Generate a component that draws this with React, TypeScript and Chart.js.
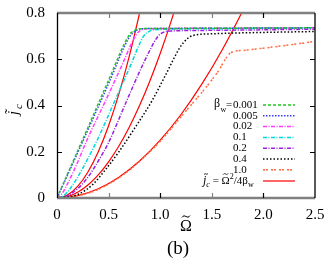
import React, { useEffect, useRef } from "react";
import { Chart, registerables } from "chart.js";

Chart.register(...registerables);

// ---- data ----
const betaLabels = ["0.001", "0.005", "0.02", "0.1", "0.2", "0.4", "1.0"];

const b0001X = [0, 0.1, 0.3, 0.5, 0.7, 0.75, 0.8, 1.0, 1.5, 2.0, 2.5];
const b0001Y = [0, 0.102, 0.305, 0.51, 0.705, 0.724, 0.732, 0.733, 0.734, 0.735, 0.736];

const b0005X = [0, 0.1, 0.3, 0.5, 0.7, 0.76, 0.82, 1.0, 1.5, 2.0, 2.5];
const b0005Y = [0, 0.097, 0.295, 0.495, 0.695, 0.722, 0.732, 0.733, 0.734, 0.735, 0.736];

const b002X = [0, 0.05, 0.1, 0.2, 0.29, 0.47, 0.62, 0.76, 0.82, 0.9, 1.5, 2.5];
const b002Y = [0, 0.02, 0.06, 0.155, 0.25, 0.42, 0.565, 0.7, 0.728, 0.732, 0.734, 0.736];

const b01X = [0, 0.05, 0.1, 0.2, 0.29, 0.4, 0.56, 0.7, 0.84, 0.9, 0.95, 1.5, 2.5];
const b01Y = [0, 0.006, 0.025, 0.09, 0.163, 0.26, 0.42, 0.56, 0.7, 0.722, 0.728, 0.732, 0.736];

const b02X = [0, 0.1, 0.2, 0.3, 0.4, 0.5, 0.675, 0.83, 0.98, 1.04, 1.1, 1.5, 2.5];
const b02Y = [0, 0.01, 0.04, 0.09, 0.16, 0.24, 0.42, 0.575, 0.7, 0.718, 0.722, 0.725, 0.73];

const b04X = [0, 0.2, 0.35, 0.465, 0.6, 0.75, 0.92, 1.05, 1.19, 1.26, 1.32, 1.5, 2.0, 2.5];
const b04Y = [0, 0.015, 0.06, 0.12, 0.2, 0.3, 0.42, 0.53, 0.65, 0.688, 0.703, 0.71, 0.716, 0.72];

const b10X = [0, 0.3, 0.5, 0.7, 0.9, 1.0, 1.2, 1.353, 1.386, 1.55, 1.69, 1.8, 2.0, 2.25, 2.5];
const b10Y = [0, 0.02, 0.06, 0.12, 0.2, 0.245, 0.35, 0.43, 0.447, 0.54, 0.63, 0.638, 0.648, 0.662, 0.677];

// red reference curves j = Omega^2 / 4 beta for beta = 0.2, 0.4, 1.0
const red02X = [0, 0.1, 0.2, 0.3, 0.4, 0.5, 0.6, 0.7, 0.8, 0.85];
const red02Y = [0, 0.0125, 0.05, 0.1125, 0.2, 0.3125, 0.45, 0.6125, 0.8, 0.903];
const red04X = [0, 0.1, 0.2, 0.3, 0.4, 0.5, 0.6, 0.7, 0.8, 0.9, 1.0, 1.1, 1.2];
const red04Y = [0, 0.00625, 0.025, 0.05625, 0.1, 0.15625, 0.225, 0.30625, 0.4, 0.50625, 0.625, 0.75625, 0.9];
const red10X = [0, 0.2, 0.4, 0.6, 0.8, 1.0, 1.2, 1.4, 1.6, 1.8, 1.9];
const red10Y = [0, 0.01, 0.04, 0.09, 0.16, 0.25, 0.36, 0.49, 0.64, 0.81, 0.9025];

const xTicks = [0, 0.5, 1, 1.5, 2, 2.5];
const yTicks = [0, 0.2, 0.4, 0.6, 0.8];

// ---- styles ----
const seriesStyle = [
  { color: "#1ec81e", dash: [3, 2] },
  { color: "#3c3cff", dash: [1.5, 1.5] },
  { color: "#ff3cff", dash: [4, 1.5, 1, 1.5] },
  { color: "#00d8d8", dash: [4, 1.5, 1, 1.5] },
  { color: "#9a20e0", dash: [4, 1.5, 1, 1.5] },
  { color: "#000000", dash: [1.5, 2] },
  { color: "#ff6a40", dash: [2, 1, 2, 3] },
];
const RED = "#ff0000";

const pts = (xs: number[], ys: number[]) => xs.map((v, i) => ({ x: v, y: ys[i] }));

const SERIF = "'Liberation Serif', 'DejaVu Serif', serif";

function tilde(ctx: any, cx: number, y: number, w: number, lw: number) {
  const x0 = cx - w / 2;
  ctx.save();
  ctx.strokeStyle = "#000";
  ctx.lineWidth = lw;
  ctx.setLineDash([]);
  ctx.beginPath();
  ctx.moveTo(x0, y + w * 0.12);
  ctx.bezierCurveTo(x0 + w * 0.35, y - w * 0.45, x0 + w * 0.65, y + w * 0.45, x0 + w, y - w * 0.12);
  ctx.stroke();
  ctx.restore();
}

const framePlugin = {
  id: "frameLegend",
  afterDraw(chart: any) {
    const { ctx, chartArea } = chart;
    const { left, right, top, bottom } = chartArea;
    const xs = chart.scales.x;
    const ys = chart.scales.y;
    ctx.save();
    ctx.lineCap = "butt";
    ctx.strokeStyle = "#808080";
    ctx.lineWidth = 2.5;
    ctx.beginPath();
    ctx.moveTo(left, top);
    ctx.lineTo(right, top);
    ctx.moveTo(left, bottom);
    ctx.lineTo(right, bottom);
    ctx.stroke();
    ctx.lineWidth = 1.2;
    xTicks.forEach((t, i) => {
      if (i === 0 || i === xTicks.length - 1) return;
      const px = Math.round(xs.getPixelForValue(t)) + 0.5;
      ctx.strokeStyle = i % 2 === 0 ? "#000" : "#808080";
      ctx.beginPath();
      ctx.moveTo(px, top);
      ctx.lineTo(px, top + 5);
      ctx.moveTo(px, bottom);
      ctx.lineTo(px, bottom - 5);
      ctx.stroke();
    });
    ctx.strokeStyle = "#000";
    ctx.lineWidth = 1.3;
    ctx.beginPath();
    ctx.moveTo(left + 0.5, top);
    ctx.lineTo(left + 0.5, bottom);
    ctx.moveTo(right, top);
    ctx.lineTo(right, bottom);
    ctx.stroke();
    ctx.lineWidth = 1.2;
    yTicks.forEach((t, i) => {
      if (i === 0 || i === yTicks.length - 1) return;
      const py = Math.round(ys.getPixelForValue(t)) + 0.5;
      ctx.beginPath();
      ctx.moveTo(left, py);
      ctx.lineTo(left + 5, py);
      ctx.moveTo(right, py);
      ctx.lineTo(right - 5, py);
      ctx.stroke();
    });

    // legend
    const rowY = [105, 115.8, 126.6, 137.4, 148.2, 159, 169.8, 181];
    const ds = chart.data.datasets;
    ctx.fillStyle = "#000";
    ctx.textBaseline = "middle";
    for (let i = 0; i < 8; i++) {
      const d = ds[i];
      ctx.save();
      ctx.strokeStyle = d.borderColor;
      ctx.lineWidth = d.borderWidth;
      ctx.setLineDash(d.borderDash || []);
      ctx.beginPath();
      ctx.moveTo(263, rowY[i]);
      ctx.lineTo(295, rowY[i]);
      ctx.stroke();
      ctx.restore();
      if (i < 7) {
        ctx.font = `11px ${SERIF}`;
        ctx.textAlign = "left";
        ctx.fillText(betaLabels[i], 233, rowY[i]);
      }
    }
    ctx.textAlign = "left";
    ctx.font = `12px ${SERIF}`;
    ctx.fillText("β", 214, rowY[0] - 1);
    ctx.font = `8px ${SERIF}`;
    ctx.fillText("w", 220.5, rowY[0] + 5);
    ctx.font = `11px ${SERIF}`;
    ctx.fillText("=", 226, rowY[0]);
    // "j̃c = Ω̃²/4βw"
    let cx = 203;
    const ly = rowY[7];
    const piece = (txt: string, font: string, dy: number) => {
      ctx.font = font;
      ctx.fillText(txt, cx, ly + dy);
      const w = ctx.measureText(txt).width;
      cx += w;
      return w;
    };
    const jx = cx;
    piece("j", `italic 12px ${SERIF}`, 0);
    tilde(ctx, jx + 3, ly - 7, 4, 0.8);
    piece("c", `italic 8px ${SERIF}`, 4);
    piece(" = ", `11px ${SERIF}`, 0);
    const ox = cx;
    const ow = piece("Ω", `11px ${SERIF}`, 0);
    tilde(ctx, ox + ow / 2, ly - 7, 5, 0.8);
    piece("2", `8px ${SERIF}`, -4);
    piece("/4β", `11px ${SERIF}`, 0);
    piece("w", `8px ${SERIF}`, 4);

    // x title
    ctx.textAlign = "center";
    ctx.font = `16px ${SERIF}`;
    const tx = (left + right) / 2;
    ctx.fillText("Ω", tx, 227);
    tilde(ctx, tx, 216.5, 8, 1);
    // (b)
    ctx.font = `19px ${SERIF}`;
    ctx.fillText("(b)", tx - 8, 249);

    // y title rotated
    ctx.save();
    ctx.translate(14, 108);
    ctx.rotate(-Math.PI / 2);
    ctx.textAlign = "left";
    ctx.font = `italic 15px ${SERIF}`;
    ctx.fillText("j\u0303", -7, 0);
    ctx.font = `italic 11px ${SERIF}`;
    ctx.fillText("c", -1, 5);
    ctx.restore();

    ctx.restore();
  },
};

export default function App() {
  const ref = useRef<HTMLCanvasElement | null>(null);
  useEffect(() => {
    document.body.style.margin = "0";
    const canvas = ref.current!;
    const series = [
      pts(b0001X, b0001Y),
      pts(b0005X, b0005Y),
      pts(b002X, b002Y),
      pts(b01X, b01Y),
      pts(b02X, b02Y),
      pts(b04X, b04Y),
      pts(b10X, b10Y),
    ];
    const datasets: any[] = series.map((d, i) => ({
      label: betaLabels[i],
      data: d,
      borderColor: seriesStyle[i].color,
      borderDash: seriesStyle[i].dash,
      borderWidth: 1.5,
      pointRadius: 0,
      fill: false,
      cubicInterpolationMode: "monotone",
    }));
    [pts(red02X, red02Y), pts(red04X, red04Y), pts(red10X, red10Y)].forEach((d, i) => {
      datasets.push({
        label: "red" + i,
        data: d,
        borderColor: RED,
        borderWidth: 1.2,
        pointRadius: 0,
        fill: false,
        cubicInterpolationMode: "monotone",
      });
    });
    const chart = new Chart(canvas, {
      type: "line",
      data: { datasets },
      options: {
        animation: false,
        responsive: false,
        devicePixelRatio: 1,
        layout: { padding: { left: 0, top: 12, right: 12, bottom: 0 } },
        plugins: { legend: { display: false }, tooltip: { enabled: false } },
        scales: {
          x: {
            type: "linear",
            min: 0,
            max: 2.5,
            ticks: { stepSize: 0.5, color: "#000", padding: 0, font: { family: SERIF, size: 15 }, maxRotation: 0 },
            grid: { display: false },
            border: { display: false },
            afterFit: (s: any) => { s.height = 68; },
          },
          y: {
            type: "linear",
            min: 0,
            max: 0.8,
            ticks: { stepSize: 0.2, color: "#000", padding: 4, font: { family: SERIF, size: 15 } },
            grid: { display: false },
            border: { display: false },
            afterFit: (s: any) => { s.width = 57; },
          },
        },
      } as any,
      plugins: [framePlugin],
    });
    return () => chart.destroy();
  }, []);
  return (
    <div style={{ position: "absolute", left: 0, top: 0, width: 327, height: 266, background: "#fff" }}>
      <canvas ref={ref} width={327} height={266} style={{ display: "block" }} />
    </div>
  );
}
